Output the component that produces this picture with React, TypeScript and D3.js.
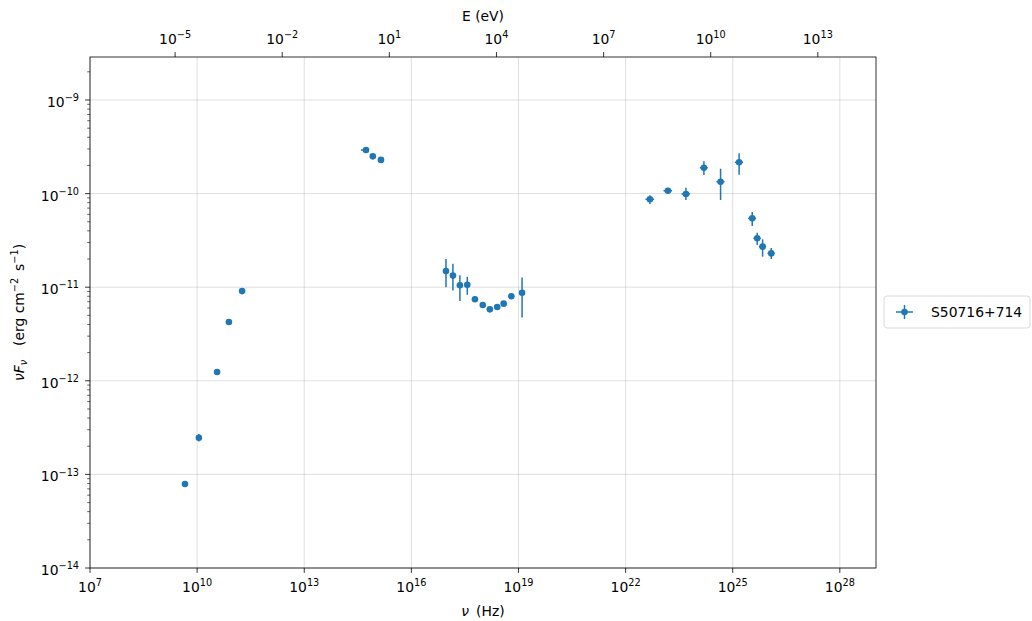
import React from "react";
import * as d3 from "d3";

const seriesName = "S50716+714";
const nu = [4.57e9, 1.12e10, 3.63e10, 7.76e10, 1.82e11, 5.37e14, 8.32e14, 1.41e15, 9.33e16, 1.46e17, 2.29e17, 3.68e17, 6.03e17, 1.0e18, 1.58e18, 2.54e18, 3.85e18, 6.31e18, 1.26e19, 4.79e22, 1.53e23, 4.9e23, 1.56e24, 4.57e24, 1.51e25, 3.52e25, 4.85e25, 6.87e25, 1.2e26];
const nuFnu = [7.9e-14, 2.46e-13, 1.24e-12, 4.25e-12, 9.1e-12, 2.92e-10, 2.5e-10, 2.29e-10, 1.49e-11, 1.33e-11, 1.05e-11, 1.06e-11, 7.43e-12, 6.45e-12, 5.8e-12, 6.14e-12, 6.67e-12, 8.0e-12, 8.73e-12, 8.69e-11, 1.074e-10, 9.9e-11, 1.89e-10, 1.34e-10, 2.16e-10, 5.44e-11, 3.33e-11, 2.71e-11, 2.3e-11];
const nuFnuLow = [7.6e-14, 2.25e-13, 1.2e-12, 4.1e-12, 8.4e-12, 2.86e-10, 2.44e-10, 2.24e-10, 1.0e-11, 9.2e-12, 7.1e-12, 8.3e-12, 7.0e-12, 6.2e-12, 5.6e-12, 5.9e-12, 6.4e-12, 7.7e-12, 4.76e-12, 7.76e-11, 1.0e-10, 8.55e-11, 1.58e-10, 8.55e-11, 1.59e-10, 4.5e-11, 2.82e-11, 2.12e-11, 2.0e-11];
const nuFnuHigh = [8.2e-14, 2.7e-13, 1.28e-12, 4.4e-12, 9.8e-12, 2.98e-10, 2.56e-10, 2.34e-10, 2.0e-11, 1.78e-11, 1.34e-11, 1.29e-11, 7.9e-12, 6.7e-12, 6.0e-12, 6.4e-12, 6.95e-12, 8.3e-12, 1.27e-11, 9.6e-11, 1.156e-10, 1.156e-10, 2.21e-10, 1.845e-10, 2.7e-10, 6.35e-11, 3.82e-11, 3.25e-11, 2.62e-11];
const nuLow = [4.4e9, 1.0e10, 3.5e10, 7.3e10, 1.7e11, 3.9e14, 7.0e14, 1.15e15, 8.9e16, 1.4e17, 2.2e17, 3.5e17, 5.8e17, 9.6e17, 1.52e18, 2.44e18, 3.7e18, 6.05e18, 1.21e19, 3.6e22, 1.15e23, 3.7e23, 1.2e24, 3.5e24, 1.15e25, 2.7e25, 3.8e25, 5.4e25, 9.4e25];
const nuHigh = [4.75e9, 1.25e10, 3.75e10, 8.2e10, 1.95e11, 5.6e14, 8.7e14, 1.5e15, 9.8e16, 1.52e17, 2.38e17, 3.85e17, 6.3e17, 1.04e18, 1.64e18, 2.64e18, 4.0e18, 6.6e18, 1.31e19, 6.3e22, 2.0e23, 6.4e23, 2.0e24, 5.9e24, 1.95e25, 4.5e25, 6.1e25, 8.6e25, 1.5e26];

const xTickExps = [7, 10, 13, 16, 19, 22, 25, 28];
const yTickExps = [-14, -13, -12, -11, -10, -9];
const eTickExps = [-5, -2, 1, 4, 7, 10, 13];
const PLANCK_EV = 4.135667e-15;

const W = 1032, H = 621;
const L = 90, R = 876, T = 57, B = 568;
const C0 = "#1f77b4";
const FONT = "DejaVu Sans, sans-serif";
const FS = 13.9;

function Pow({ x, y, base = "10", exp, anchor = "middle" }: any) {
  return (
    <text x={x} y={y} textAnchor={anchor} fontFamily={FONT} fontSize={FS} fill="#000">
      {base}
      <tspan fontSize={FS * 0.7} dy={-FS * 0.42}>{exp < 0 ? "\u2212" + Math.abs(exp) : exp}</tspan>
    </text>
  );
}

export default function App() {
  const x = d3.scaleLog().domain([1e7, 1.03e29]).range([L, R]);
  const y = d3.scaleLog().domain([1e-14, 2.88e-9]).range([B, T]);

  const minorY: number[] = [];
  for (let e = -14; e <= -9; e++) {
    for (let m = 2; m <= 9; m++) {
      const v = m * Math.pow(10, e);
      if (v <= 2.88e-9) minorY.push(v);
    }
  }

  const pts = nu.map((v, i) => ({ v, f: nuFnu[i], lo: nuFnuLow[i], hi: nuFnuHigh[i], xl: nuLow[i], xh: nuHigh[i] }));

  return (
    <svg width={W} height={H} style={{ position: "absolute", left: 0, top: 0, background: "#fff" }}>
      <rect x={0} y={0} width={W} height={H} fill="#fff" />
      {/* grid */}
      <g stroke="#b0b0b0" strokeOpacity={0.5} strokeWidth={0.8}>
        {xTickExps.map((e) => (
          <line key={"gx" + e} x1={x(Math.pow(10, e))} x2={x(Math.pow(10, e))} y1={T} y2={B} />
        ))}
        {yTickExps.map((e) => (
          <line key={"gy" + e} x1={L} x2={R} y1={y(Math.pow(10, e))} y2={y(Math.pow(10, e))} />
        ))}
      </g>
      {/* data */}
      <g stroke={C0} strokeWidth={1.5}>
        {pts.map((p, i) => (
          <g key={i}>
            <line x1={x(p.v)} x2={x(p.v)} y1={y(p.lo)} y2={y(p.hi)} />
            <line x1={x(p.xl)} x2={x(p.xh)} y1={y(p.f)} y2={y(p.f)} />
          </g>
        ))}
      </g>
      <g fill={C0}>
        {pts.map((p, i) => (
          <circle key={i} cx={x(p.v)} cy={y(p.f)} r={3.3} />
        ))}
      </g>
      {/* frame */}
      <rect x={L} y={T} width={R - L} height={B - T} fill="none" stroke="#000" strokeWidth={0.8} />
      {/* bottom ticks */}
      {xTickExps.map((e) => {
        const px = x(Math.pow(10, e));
        return (
          <g key={"bx" + e}>
            <line x1={px} x2={px} y1={B} y2={B + 4.9} stroke="#000" strokeWidth={0.8} />
            <Pow x={px} y={B + 24} exp={e} />
          </g>
        );
      })}
      {/* left ticks */}
      {yTickExps.map((e) => {
        const py = y(Math.pow(10, e));
        return (
          <g key={"ly" + e}>
            <line x1={L - 4.9} x2={L} y1={py} y2={py} stroke="#000" strokeWidth={0.8} />
            <Pow x={L - 11} y={py + 7} exp={e} anchor="end" />
          </g>
        );
      })}
      {minorY.map((v, i) => (
        <line key={"my" + i} x1={L - 2.8} x2={L} y1={y(v)} y2={y(v)} stroke="#000" strokeWidth={0.6} />
      ))}
      {/* top axis (energy) */}
      {eTickExps.map((e) => {
        const px = x(Math.pow(10, e) / PLANCK_EV);
        return (
          <g key={"tx" + e}>
            <line x1={px} x2={px} y1={T} y2={T - 4.9} stroke="#000" strokeWidth={0.8} />
            <Pow x={px} y={T - 13} exp={e} />
          </g>
        );
      })}
      <text x={(L + R) / 2} y={21} textAnchor="middle" fontFamily={FONT} fontSize={FS}>E (eV)</text>
      {/* axis labels */}
      <text x={(L + R) / 2} y={616} textAnchor="middle" fontFamily={FONT} fontSize={FS}>
        <tspan fontStyle="italic">ν</tspan>
        <tspan>{"\u2002(Hz)"}</tspan>
      </text>
      <text transform={`translate(24, ${(T + B) / 2}) rotate(-90)`} textAnchor="middle" fontFamily={FONT} fontSize={FS}>
        <tspan fontStyle="italic">νF</tspan>
        <tspan fontStyle="italic" fontSize={FS * 0.7} dy={3}>ν</tspan>
        <tspan dy={-3}>{"\u2003(erg cm"}</tspan>
        <tspan fontSize={FS * 0.7} dy={-6}>{"\u22122"}</tspan>
        <tspan dy={6}>{"\u2002s"}</tspan>
        <tspan fontSize={FS * 0.7} dy={-6}>{"\u22121"}</tspan>
        <tspan dy={6}>)</tspan>
      </text>
      {/* legend */}
      <g>
        <rect x={884} y={296} width={146} height={32} rx={3} fill="#fff" stroke="#d0d0d0" strokeWidth={0.8} />
        <line x1={896} x2={913} y1={312} y2={312} stroke={C0} strokeWidth={1.5} />
        <line x1={904.5} x2={904.5} y1={305} y2={319} stroke={C0} strokeWidth={1.5} />
        <circle cx={904.5} cy={312} r={3.3} fill={C0} />
        <text x={931} y={317} fontFamily={FONT} fontSize={FS}>{seriesName}</text>
      </g>
    </svg>
  );
}
